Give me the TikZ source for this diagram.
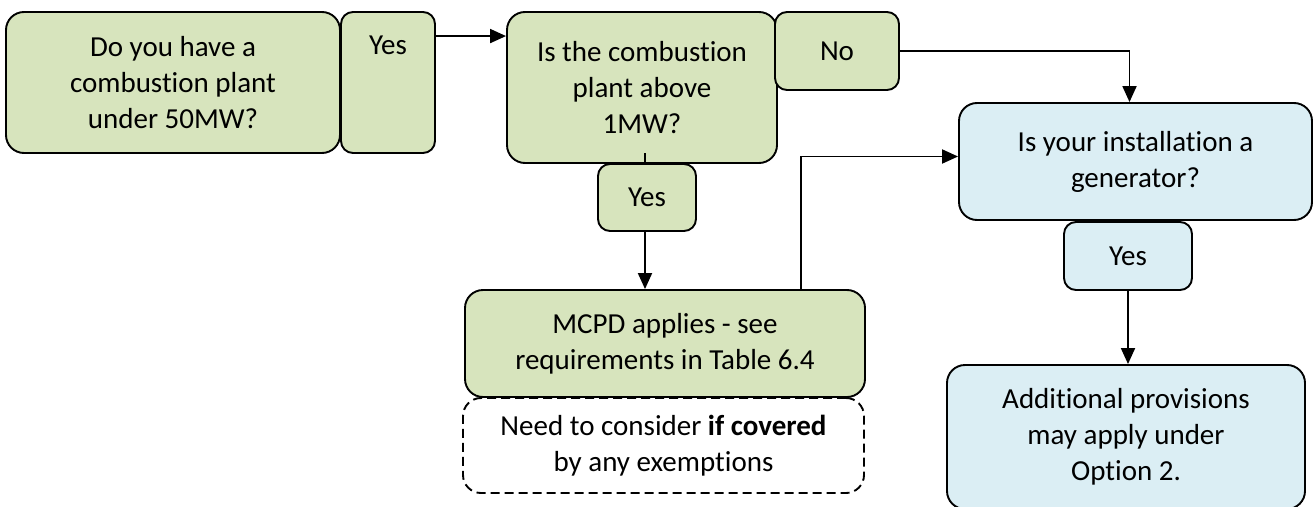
\documentclass[tikz,border=0pt]{standalone}
\usepackage{fontspec}
\setmainfont{Carlito}[Ligatures=NoCommon]
\usetikzlibrary{arrows.meta}
\definecolor{qgreen}{HTML}{D7E4BD}
\definecolor{qblue}{HTML}{DBEEF4}
\begin{document}
\begin{tikzpicture}[x=1pt,y=1pt,
	font=\fontsize{29}{36}\selectfont,
	bigbox/.style={draw,line width=1.9pt,rounded corners=18pt,align=center,inner sep=0pt},
	tagbox/.style={draw,line width=1.9pt,rounded corners=12pt,inner sep=0pt},
	arr/.style={line width=1.9pt,-{Triangle[length=16pt,width=14pt]}}]
\useasboundingbox (0,0) rectangle (1314,-506);
% green boxes
\node[bigbox,fill=qgreen,minimum width=334,minimum height=141] (plant) at (173,-82.5)
	{Do you have a\\combustion plant\\under 50MW?};
\node[tagbox,fill=qgreen,minimum width=94,minimum height=141,
	label={[anchor=north,inner sep=0pt,yshift=-25pt]north:Yes}] (yesA) at (388,-82.5) {};
\node[bigbox,fill=qgreen,minimum width=270,minimum height=151] (above) at (642,-87.5)
	{Is the combustion\\plant above\\1MW?};
\node[tagbox,fill=qgreen,minimum width=124,minimum height=78] (no) at (837,-51) {No};
\node[tagbox,fill=qgreen,minimum width=98,minimum height=67] (yesB) at (647,-197.5) {Yes};
\node[bigbox,fill=qgreen,minimum width=400,minimum height=107] (mcpd) at (665,-343.5)
	{MCPD applies - see\\requirements in Table 6.4};
\node[bigbox,dashed,dash pattern=on 9pt off 5pt,minimum width=401,minimum height=95] (exempt) at (663.5,-445.5)
	{Need to consider \textbf{if covered}\\by any exemptions};
% blue boxes
\node[bigbox,fill=qblue,minimum width=353,minimum height=117] (gen) at (1135.5,-161.5)
	{Is your installation a\\generator?};
\node[tagbox,fill=qblue,minimum width=128,minimum height=68] (yesC) at (1128,-256) {Yes};
\node[bigbox,fill=qblue,minimum width=358,minimum height=144] (option) at (1126,-437)
	{Additional provisions\\may apply under\\Option 2.};
% connectors
\draw[arr] ([yshift=-25pt]yesA.north east) -- ([yshift=-25pt]yesA.north east -| above.west);
\draw[arr] (no.east) -| ([xshift=-6pt]gen.north);
\draw[line width=1.9pt] ([xshift=-2pt,yshift=10pt]yesB.north) -- ([xshift=-2pt]yesB.north);
\draw[arr] ([xshift=-2pt]yesB.south) -- ([xshift=-2pt]yesB.south |- mcpd.north);
\draw[arr] ([xshift=136pt]mcpd.north) |- ([yshift=5pt]gen.west);
\draw[arr] (yesC.south) -- (yesC.south |- option.north);
\end{tikzpicture}
\end{document}
